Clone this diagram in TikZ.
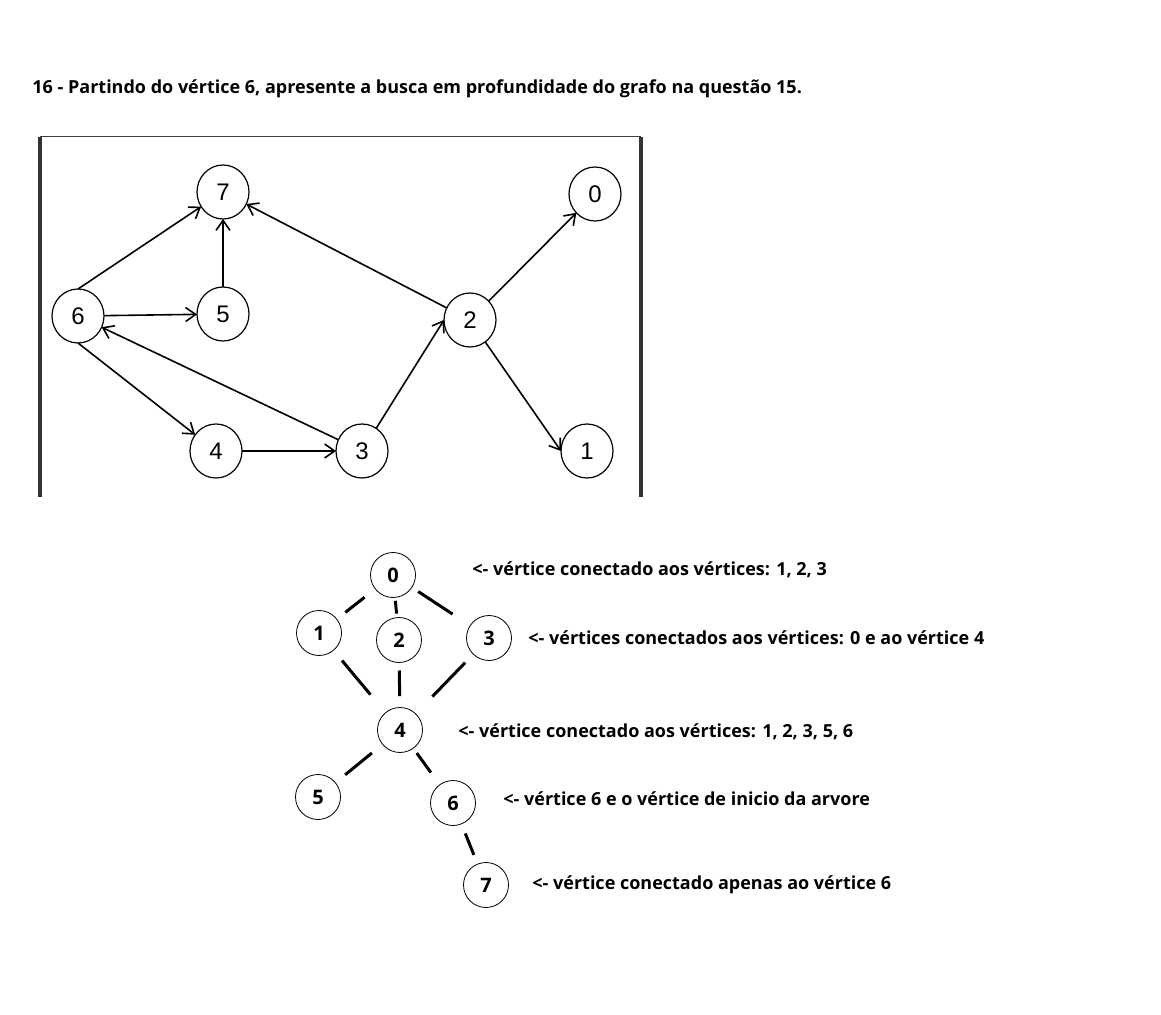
\documentclass[tikz,border=0pt]{standalone}
\usepackage{fontspec}
\setmainfont{Liberation Sans}
\newfontfamily\notefont{Open Sans}
\usetikzlibrary{arrows.meta,shapes.geometric}
\begin{document}
\begin{tikzpicture}[x=0.5pt,y=-0.5pt,
  vtx/.style={draw,ellipse,line width=0.6pt,minimum width=26pt,minimum height=27pt,inner sep=0pt,outer sep=0pt,font=\fontsize{12}{14}\selectfont},
  arc/.style={-{Straight Barb[length=5pt,width=7pt]},line width=0.8pt},
  tnode/.style={draw,circle,line width=0.4pt,minimum size=22.5pt,inner sep=0pt,outer sep=0pt,font=\notefont\bfseries\fontsize{10}{12}\selectfont},
  tie/.style={line width=1.5pt},
  note/.style={anchor=west,inner sep=0pt,font=\notefont\bfseries\fontsize{9}{11}\selectfont}]
\useasboundingbox (0,0) rectangle (1161,1015);
\fill[white] (0,0) rectangle (1161,1015);
% title
\node[note] (title) at (32,89) {16 - Partindo do vértice 6, apresente a busca em profundidade do grafo na questão 15.};
% frame
\draw[line width=0.5pt,black!75] (40,137) -- (641,137);
\draw[line width=2.2pt,black!80] (40,137) -- (40,497);
\draw[line width=2.2pt,black!80] (641,137) -- (641,497);
% graph of questao 15
\node[vtx] (g7) at (223,192) {7};
\node[vtx] (g0) at (595,194) {0};
\node[vtx] (g6) at (78,316) {6};
\node[vtx] (g5) at (223,314) {5};
\node[vtx] (g2) at (470,320) {2};
\node[vtx] (g4) at (216,451) {4};
\node[vtx] (g3) at (362,451) {3};
\node[vtx] (g1) at (587,451) {1};
\draw[arc] (g6.north) -- (g7);
\draw[arc] (g5) -- (g7);
\draw[arc] (g2) -- (g7);
\draw[arc] (g6) -- (g5);
\draw[arc] (g3) -- (g6);
\draw[arc] (g6.south) -- (g4);
\draw[arc] (g4) -- (g3);
\draw[arc] (g3) -- (g2.west);
\draw[arc] (g2) -- (g0);
\draw[arc] (g2) -- (g1.west);
% depth first tree
\node[tnode] (t0) at (393,575) {0};
\node[tnode] (t1) at (319,633) {1};
\node[tnode] (t2) at (399,640) {2};
\node[tnode] (t3) at (489,638) {3};
\node[tnode] (t4) at (400,730) {4};
\node[tnode] (t5) at (318,797) {5};
\node[tnode] (t6) at (453,803) {6};
\node[tnode] (t7) at (486,885) {7};
\draw[tie,shorten <=6.8pt,shorten >=5.5pt] (t0) -- (t1);
\draw[tie,shorten <=1.7pt,shorten >=2pt] (t0) -- (t2);
\draw[tie,shorten <=3.8pt,shorten >=10.5pt] (t0) -- (t3);
\draw[tie,shorten <=6.7pt,shorten >=11.8pt] (t1) -- (t4);
\draw[tie,shorten <=4pt,shorten >=5.7pt] (t2) -- (t4);
\draw[tie,shorten <=5.9pt,shorten >=12pt] (t3) -- (t4);
\draw[tie,shorten <=6.9pt,shorten >=6.3pt] (t4) -- (t5);
\draw[tie,shorten <=3pt,shorten >=7.6pt] (t4) -- (t6);
\draw[tie,shorten <=5.2pt,shorten >=5pt] (t6) -- (t7);
% notes
\node[note] (n0) at (472,570) {<- vértice conectado aos vértices: 1, 2, 3};
\node[note] (n3) at (528,638) {<- vértices conectados aos vértices: 0 e ao vértice 4};
\node[note] (n4) at (458,732) {<- vértice conectado aos vértices: 1, 2, 3, 5, 6};
\node[note] (n6) at (503,799) {<- vértice 6 e o vértice de inicio da arvore};
\node[note] (n7) at (532,885) {<- vértice conectado apenas ao vértice 6};
\end{tikzpicture}
\end{document}
